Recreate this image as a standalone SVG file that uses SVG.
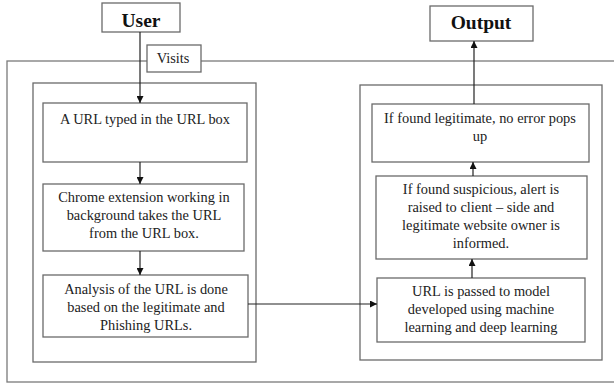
<svg xmlns="http://www.w3.org/2000/svg" width="614" height="385" viewBox="0 0 614 385">
<defs>
<style>
.box{fill:#fff;stroke:#6a6a6a;stroke-width:1.3}
.frame{fill:none;stroke:#7a7a7a;stroke-width:1.3}
.t{font-family:"Liberation Serif","Times New Roman",serif;font-size:14.4px;fill:#222;text-anchor:middle}
.h{font-family:"Liberation Serif","Times New Roman",serif;font-size:19.5px;font-weight:bold;fill:#111;text-anchor:middle}
.c{stroke:#222;stroke-width:1.2;fill:none;marker-end:url(#ah)}
</style>
<marker id="ah" viewBox="0 0 8 8" refX="8" refY="4" markerWidth="7" markerHeight="7" markerUnits="userSpaceOnUse" orient="auto">
<path d="M0,0 L8,4 L0,8 Z" fill="#111"/>
</marker>
</defs>
<rect width="614" height="385" fill="#fff"/>
<g id="frame">
<rect class="frame" x="7" y="61" width="620" height="321"/>
</g>
<g id="left-panel"><rect class="box" x="33" y="83" width="223" height="279"/></g>
<g id="right-panel"><rect class="box" x="360" y="85" width="242" height="275"/></g>
<g id="user"><rect class="box" x="102" y="3" width="78" height="29"/><text class="h" x="141" y="27">User</text></g>
<g id="visits"><rect class="box" x="147" y="45" width="54" height="27"/><text class="t" x="173" y="63">Visits</text></g>
<g id="output"><rect class="box" x="430" y="6" width="103" height="35"/><text class="h" x="481" y="29">Output</text></g>
<g id="typed"><rect class="box" x="43" y="103" width="204" height="59"/><text class="t" x="145" y="124">A URL typed in the URL box</text></g>
<g id="extension"><rect class="box" x="43" y="184" width="201" height="67"/><text class="t" x="144" y="202">Chrome extension working in</text><text class="t" x="144" y="220">background takes the URL</text><text class="t" x="144" y="238">from the URL box.</text></g>
<g id="analysis"><rect class="box" x="43" y="275" width="205" height="62"/><text class="t" x="146" y="294">Analysis of the URL is done</text><text class="t" x="146" y="312">based on the legitimate and</text><text class="t" x="146" y="330">Phishing URLs.</text></g>
<g id="legit"><rect class="box" x="372" y="104" width="217" height="58"/><text class="t" x="480" y="123">If found legitimate, no error pops</text><text class="t" x="480" y="141">up</text></g>
<g id="suspicious"><rect class="box" x="376" y="176" width="211" height="83"/><text class="t" x="481" y="194">If found suspicious, alert is</text><text class="t" x="481" y="212">raised to client – side and</text><text class="t" x="481" y="230">legitimate website owner is</text><text class="t" x="481" y="248">informed.</text></g>
<g id="model"><rect class="box" x="377" y="278" width="208" height="64"/><text class="t" x="481" y="296">URL is passed to model</text><text class="t" x="481" y="314">developed using machine</text><text class="t" x="481" y="332">learning and deep learning</text></g>
<g id="connectors">
<path class="c" d="M140,32 V103"/>
<path class="c" d="M140,162 V184"/>
<path class="c" d="M140,251 V275"/>
<path class="c" d="M248,304 H377"/>
<path class="c" d="M472,278 V259"/>
<path class="c" d="M473,176 V162"/>
<path class="c" d="M474,104 V41"/>
</g>
</svg>
